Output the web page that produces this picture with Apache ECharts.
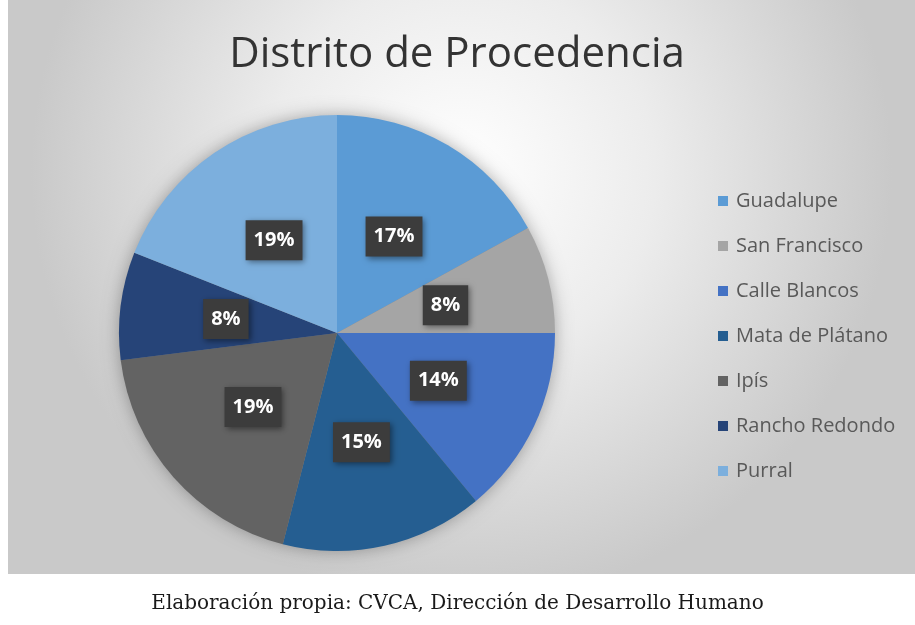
<!DOCTYPE html>
<html>
<head>
<meta charset="utf-8">
<script src="https://cdn.jsdelivr.net/npm/echarts@6/dist/echarts.min.js"></script>
<style>
  html, body { margin: 0; padding: 0; background: #fff; }
  #chart { width: 915px; height: 625px; }
</style>
</head>
<body>
<div id="chart"></div>
<script>
var districts = ['Guadalupe', 'San Francisco', 'Calle Blancos', 'Mata de Plátano', 'Ipís', 'Rancho Redondo', 'Purral'];
var shares = [17, 8, 14, 15, 19, 8, 19];
var sliceColors = ['#5B9BD5', '#A5A5A5', '#4472C4', '#255E91', '#636363', '#264478', '#7CAFDD'];

function renderDistrictChart(chartID) {
  var echarts = window.echarts;
  var chartDom = document.getElementById(chartID);
  var myChart = echarts.init(chartDom);
  var option;

  var pieData = districts.map(function (name, i) {
    return { name: name, value: shares[i], itemStyle: { color: sliceColors[i] } };
  });

  option = {
    backgroundColor: '#ffffff',
    animation: false,
    graphic: [
      {
        type: 'rect',
        z: -10,
        shape: { x: 8, y: 0, width: 907, height: 574 },
        style: {
          fill: new echarts.graphic.RadialGradient(0.5, 0.3, 0.75, [
            { offset: 0, color: '#ffffff' },
            { offset: 0.45, color: '#ececec' },
            { offset: 1, color: '#c9c9c9' }
          ])
        }
      },
      {
        type: 'text',
        left: 'center',
        top: 594,
        style: {
          text: 'Elaboración propia: CVCA, Dirección de Desarrollo Humano',
          font: '20px "DejaVu Serif"',
          fill: '#1a1a1a'
        }
      }
    ],
    title: {
      text: 'Distrito de Procedencia',
      left: 452,
      textAlign: 'center',
      top: 29,
      textStyle: {
        fontFamily: 'Open Sans',
        fontSize: 42,
        fontWeight: 'normal',
        color: '#333333'
      }
    },
    legend: {
      orient: 'vertical',
      left: 713,
      top: 186,
      itemWidth: 10,
      itemHeight: 10,
      itemGap: 25,
      icon: 'rect',
      data: districts,
      textStyle: {
        fontFamily: 'Open Sans',
        fontSize: 20,
        color: '#595959',
        padding: [0, 0, 0, 3]
      }
    },
    series: [
      {
        // soft shadow under the whole pie
        name: 'shadow',
        type: 'pie',
        silent: true,
        center: [337, 333],
        radius: 217,
        z: 1,
        label: { show: false },
        labelLine: { show: false },
        data: [{ value: 1, itemStyle: { color: '#888888', shadowBlur: 18, shadowColor: 'rgba(0,0,0,0.35)' } }]
      },
      {
        name: 'Distrito',
        type: 'pie',
        center: [337, 333],
        radius: 218,
        startAngle: 90,
        clockwise: true,
        z: 2,
        itemStyle: { borderWidth: 0 },
        label: {
          show: true,
          position: 'inside',
          formatter: '{c}%',
          fontFamily: 'Open Sans',
          fontSize: 20,
          fontWeight: 'bold',
          color: '#ffffff',
          backgroundColor: '#3c3c3c',
          padding: [10, 8],
          shadowBlur: 6,
          shadowColor: 'rgba(0,0,0,0.45)',
          shadowOffsetX: 2,
          shadowOffsetY: 2
        },
        labelLine: { show: false },
        data: pieData
      }
    ]
  };

  option && myChart.setOption(option);
}

renderDistrictChart('chart');
</script>
</body>
</html>
